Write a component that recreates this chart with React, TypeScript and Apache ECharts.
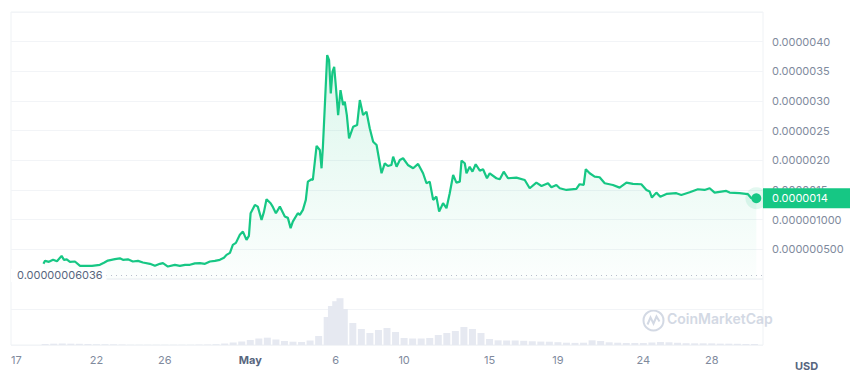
import React, { useEffect, useRef } from "react";
import * as echarts from "echarts";

// Days since 17 Apr 2023 (00:00)
const priceDays = [
  1.9, 1.99, 2.22, 2.46, 2.69, 2.96, 3.1, 3.26, 3.45, 3.74, 4.04, 4.27, 4.74, 5.2, 5.44, 5.67, 6.08, 6.37, 6.55, 6.84,
  7.13, 7.43, 7.72, 8.13, 8.42, 8.71, 8.89, 9.18, 9.59, 9.88, 10.18, 10.47, 10.76, 11.05, 11.35, 11.64, 11.93, 12.22, 12.46, 12.61,
  12.81, 12.98, 13.16, 13.39, 13.57, 13.78, 13.92, 14.02, 14.27, 14.44, 14.66, 14.8, 14.95, 15.19, 15.32, 15.5, 15.73, 16.02, 16.2, 16.36,
  16.49, 16.78, 16.9, 17.08, 17.25, 17.37, 17.59, 17.66, 17.88, 18.07, 18.17, 18.25, 18.36, 18.5, 18.61, 18.71, 18.81, 18.91, 19.01, 19.14,
  19.28, 19.43, 19.53, 19.65, 19.78, 20.02, 20.25, 20.41, 20.6, 20.8, 20.99, 21.19, 21.39, 21.68, 21.87, 22.05, 22.26, 22.36, 22.56, 22.75,
  22.94, 23.22, 23.53, 23.82, 24.11, 24.31, 24.5, 24.7, 24.89, 25.05, 25.28, 25.48, 25.67, 25.87, 26.06, 26.26, 26.36, 26.55, 26.65, 26.84,
  27.0, 27.19, 27.43, 27.62, 27.85, 28.01, 28.4, 28.6, 28.83, 29.08, 29.57, 30.06, 30.35, 30.74, 31.04, 31.42, 31.62, 31.91, 32.11, 32.5,
  33.08, 33.27, 33.51, 33.63, 33.86, 34.15, 34.44, 34.74, 35.22, 35.61, 36.01, 36.39, 36.88, 37.18, 37.37, 37.5, 37.76, 37.99, 38.35, 38.93,
  39.22, 39.71, 40.19, 40.58, 40.88, 41.17, 41.85, 42.05, 42.63, 43.12, 43.32, 43.61,
];
// Price in millionths of a USD
const priceMicroUsd = [
  0.256, 0.306, 0.289, 0.323, 0.298, 0.39, 0.323, 0.332, 0.289, 0.295, 0.222, 0.222, 0.222, 0.239, 0.273, 0.311, 0.335, 0.348, 0.323, 0.332,
  0.295, 0.306, 0.278, 0.256, 0.222, 0.256, 0.268, 0.21, 0.239, 0.222, 0.239, 0.239, 0.264, 0.268, 0.256, 0.295, 0.306, 0.323, 0.357, 0.407,
  0.441, 0.576, 0.609, 0.744, 0.799, 0.66, 0.727, 1.109, 1.249, 1.22, 0.996, 1.131, 1.345, 1.277, 1.215, 1.109, 1.22, 1.052, 1.03, 0.857,
  0.968, 1.109, 1.08, 1.165, 1.333, 1.641, 1.681, 1.669, 2.242, 2.174, 1.866, 2.23, 2.903, 3.773, 3.689, 3.129, 3.492, 3.576, 3.24, 2.763,
  3.184, 2.932, 2.987, 2.763, 2.371, 2.566, 2.595, 3.016, 2.763, 2.819, 2.54, 2.314, 2.258, 1.782, 1.95, 1.905, 1.922, 2.062, 1.893, 2.006,
  2.035, 1.922, 1.866, 1.939, 1.782, 1.614, 1.641, 1.333, 1.388, 1.136, 1.277, 1.193, 1.446, 1.754, 1.624, 1.641, 1.994, 1.951, 1.782, 1.893,
  1.809, 1.934, 1.826, 1.85, 1.698, 1.782, 1.698, 1.681, 1.809, 1.698, 1.708, 1.669, 1.53, 1.624, 1.568, 1.614, 1.547, 1.585, 1.53, 1.501,
  1.518, 1.597, 1.585, 1.85, 1.782, 1.725, 1.715, 1.614, 1.585, 1.54, 1.624, 1.602, 1.597, 1.501, 1.473, 1.372, 1.456, 1.388, 1.434, 1.446,
  1.417, 1.462, 1.513, 1.501, 1.53, 1.456, 1.484, 1.456, 1.446, 1.429, 1.361, 1.361,
];
const minPriceMicro = 0.06036;

const volumeDays = [
  2.0, 2.5, 3.0, 3.5, 4.0, 4.5, 5.0, 5.5, 6.0, 6.5, 7.0, 7.5, 8.0, 8.5, 9.0, 9.5, 10.0, 10.5, 11.0, 11.5,
  12.0, 12.5, 13.0, 13.5, 14.0, 14.5, 15.0, 15.5, 16.0, 16.5, 17.0, 17.5, 18.0, 18.5, 18.75, 19.0, 19.25, 19.5, 20.0, 20.5,
  21.0, 21.5, 22.0, 22.5, 23.0, 23.5, 24.0, 24.5, 25.0, 25.5, 26.0, 26.5, 27.0, 27.5, 28.0, 28.5, 29.0, 29.5, 30.0, 30.5,
  31.0, 31.5, 32.0, 32.5, 33.0, 33.5, 34.0, 34.5, 35.0, 35.5, 36.0, 36.5, 37.0, 37.5, 38.0, 38.5, 39.0, 39.5, 40.0, 40.5,
  41.0, 41.5, 42.0, 42.5, 43.0, 43.5,
];
const volumeValues = [
  1.7, 2.2, 2.5, 2.2, 2.0, 1.7, 1.3, 1.3, 1.2, 0.8, 0.5, 0.5, 0.5, 0.5, 0.5, 0.5, 0.5, 0.5, 0.7, 0.8,
  1.3, 2.5, 4.2, 5.8, 8.3, 10.8, 12.2, 9.2, 6.7, 5.5, 5.0, 7.5, 15, 46.7, 65, 73, 78, 60, 36.7, 26.7,
  20, 25, 28.3, 21.7, 11.7, 10.8, 10.8, 11.7, 16.7, 20, 23.3, 30, 26.7, 20, 10, 7.8, 7.5, 7.5, 7.0, 6.2,
  5.7, 5.5, 4.7, 3.8, 3.5, 3.8, 7.8, 6.7, 4.5, 3.8, 3.3, 3.3, 3.3, 4.2, 5.0, 4.5, 3.7, 3.0, 2.8, 2.8,
  2.7, 2.3, 2.2, 2.0, 1.7, 1.7,
];

const xTickDays = [0, 5, 9, 14, 19, 23, 28, 32, 37, 41];
const monthNames = ["Jan", "Feb", "Mar", "Apr", "May", "Jun", "Jul", "Aug", "Sep", "Oct", "Nov", "Dec"];

const GREEN = "#16c784";
const GRAY = "#808a9d";
const FONT = "Inter, 'Noto Sans', sans-serif";

function fmtPrice(v: number): string {
  const usd = v / 1e6;
  return v >= 1.5 ? usd.toFixed(7) : usd.toFixed(9);
}

export default function App() {
  const ref = useRef<HTMLDivElement>(null);
  useEffect(() => {
    if (!ref.current) return;
    const chart = echarts.init(ref.current, undefined, { renderer: "svg" });
    const priceData = priceDays.map((d, i) => [d, priceMicroUsd[i]]);
    const volData = volumeDays.map((d, i) => [d, volumeValues[i]]);
    const lastDay = priceDays[priceDays.length - 1];
    const lastVal = priceMicroUsd[priceMicroUsd.length - 1];

    chart.setOption({
      animation: false,
      grid: [
        { left: 11, right: 87, top: 12, height: 267, show: true, borderColor: "#eff2f5", borderWidth: 1 },
        { left: 11, right: 87, top: 279, height: 66, show: true, borderColor: "#eff2f5", borderWidth: 1 },
      ],
      xAxis: [
        {
          type: "value", gridIndex: 0, min: 0, max: 44,
          axisLine: { show: false }, axisTick: { show: false }, axisLabel: { show: false }, splitLine: { show: false },
        },
        {
          type: "value", gridIndex: 1, min: 0, max: 44,
          axisLine: { show: false }, axisTick: { show: false }, splitLine: { show: false },
          axisLabel: {
            customValues: xTickDays,
            alignMinLabel: "left",
            margin: 9,
            color: GRAY,
            fontSize: 11,
            fontFamily: FONT,
            formatter: (v: number) => {
              const dt = new Date(2023, 3, 17 + Math.round(v));
              if (dt.getDate() === 1) return "{m|" + monthNames[dt.getMonth()] + "}";
              return String(dt.getDate());
            },
            rich: { m: { fontWeight: "bold", color: "#58667e", fontSize: 11, fontFamily: FONT } },
          },
        },
      ],
      yAxis: [
        {
          type: "value", gridIndex: 0, position: "right", min: 0, max: 4.5, interval: 0.5,
          axisLine: { show: false }, axisTick: { show: false },
          splitLine: { show: true, lineStyle: { color: "#f2f4f7", width: 1 } },
          axisLabel: {
            margin: 9, color: GRAY, fontSize: 11, fontFamily: FONT,
            formatter: (v: number) => (v <= 0.01 || v >= 4.49 ? "" : fmtPrice(v)),
          },
        },
        {
          type: "value", gridIndex: 1, position: "right", min: 0, max: 110, interval: 60,
          axisLine: { show: false }, axisTick: { show: false }, axisLabel: { show: false },
          splitLine: { show: true, lineStyle: { color: "#f2f4f7", width: 1 } },
        },
      ],
      series: [
        {
          type: "bar", xAxisIndex: 1, yAxisIndex: 1, data: volData, barWidth: 7,
          itemStyle: { color: "#e6e9f1" }, silent: true,
        },
        {
          type: "line", xAxisIndex: 0, yAxisIndex: 0, data: priceData, showSymbol: false, symbol: "none",
          lineStyle: { color: GREEN, width: 2.2 },
          areaStyle: {
            color: new echarts.graphic.LinearGradient(0, 0, 0, 1, [
              { offset: 0, color: "rgba(22,199,132,0.22)" },
              { offset: 1, color: "rgba(22,199,132,0.02)" },
            ]),
          },
          z: 3,
          markLine: {
            silent: true,
            symbol: "none",
            z: 10,
            data: [
              {
                yAxis: minPriceMicro,
                lineStyle: { color: "#b8bfcc", type: [1, 4], width: 1 },
                label: {
                  show: true,
                  position: "insideStartTop",
                  verticalAlign: "middle",
                  distance: [0, 0],
                  formatter: () => (minPriceMicro / 1e6).toFixed(11),
                  color: "#58667e",
                  fontSize: 11,
                  fontFamily: FONT,
                  backgroundColor: "#fff",
                  padding: [1, 4, 1, 6],
                },
              },
              {
                yAxis: lastVal,
                lineStyle: { color: "rgba(0,0,0,0)", width: 1, type: "solid" },
                label: {
                  show: true,
                  position: "end",
                  distance: 0,
                  formatter: () => (lastVal / 1e6).toFixed(7),
                  color: "#ffffff",
                  backgroundColor: GREEN,
                  fontSize: 11,
                  fontFamily: FONT,
                  lineHeight: 12,
                  padding: [4, 30, 4, 9],
                  opacity: 1,
                },
              },
            ],
          },
          markPoint: {
            silent: true,
            symbol: "circle",
            label: { show: false },
            data: [
              { coord: [lastDay, lastVal], symbolSize: 22, itemStyle: { color: "rgba(22,199,132,0.12)" } },
              { coord: [lastDay, lastVal], symbolSize: 10, itemStyle: { color: GREEN } },
            ],
          },
        },
      ],
      graphic: [
        {
          type: "group", left: 641, top: 308, silent: true,
          children: [
            { type: "circle", shape: { cx: 11, cy: 11, r: 10 }, style: { fill: "none", stroke: "#d3d9e4", lineWidth: 2 } },
            {
              type: "polyline",
              shape: { points: [[5, 15], [8, 8], [11, 14], [14, 7], [17, 12]] },
              style: { fill: "none", stroke: "#d3d9e4", lineWidth: 2 },
            },
          ],
        },
        {
          type: "text", left: 667, top: 311, silent: true,
          style: { text: "CoinMarketCap", fill: "#d3d9e4", fontSize: 14, fontWeight: 600, fontFamily: FONT },
        },
        {
          type: "text", left: 795, top: 360, silent: true,
          style: { text: "USD", fill: "#58667e", fontSize: 11, fontWeight: "bold", fontFamily: FONT },
        },
      ],
    });
    return () => chart.dispose();
  }, []);
  return <div ref={ref} style={{ position: "fixed", left: 0, top: 0, width: 850, height: 381, background: "#fff" }} />;
}
